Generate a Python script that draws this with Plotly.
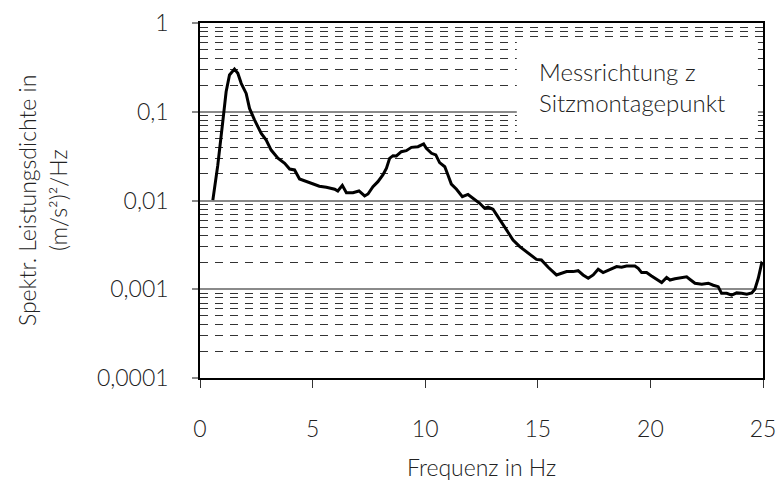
import plotly.graph_objects as go

# Spektrale Leistungsdichte, Messrichtung z, Sitzmontagepunkt
freq = [0.57, 0.79, 1.01, 1.16, 1.31, 1.53, 1.68, 1.83, 2.05, 2.2, 2.42, 2.72, 2.94,
        3.16, 3.46, 3.76, 3.98, 4.2, 4.42, 4.72, 5.09, 5.3, 5.61, 5.98, 6.12, 6.32,
        6.5, 6.79, 7.06, 7.31, 7.46, 7.68, 7.9, 8.12, 8.28, 8.42, 8.57, 8.72, 8.94,
        9.16, 9.39, 9.68, 9.93, 10.05, 10.28, 10.47, 10.64, 10.87, 11.01, 11.16,
        11.39, 11.65, 11.9, 12.12, 12.42, 12.64, 12.79, 13.01, 13.31, 13.61, 13.9,
        14.2, 14.5, 14.94, 15.16, 15.46, 15.83, 16.05, 16.28, 16.57, 16.79, 17.01,
        17.24, 17.46, 17.68, 17.9, 18.2, 18.5, 18.72, 18.94, 19.31, 19.46, 19.61,
        19.83, 20.05, 20.28, 20.5, 20.72, 20.87, 21.09, 21.39, 21.61, 21.76, 21.98,
        22.28, 22.57, 22.79, 23.01, 23.16, 23.39, 23.61, 23.83, 24.05, 24.28, 24.5,
        24.64, 24.79, 24.94, 25.0]
psd = [0.0101, 0.025, 0.077, 0.168, 0.26, 0.303, 0.271, 0.209, 0.161, 0.109, 0.081,
       0.057, 0.048, 0.037, 0.030, 0.0262, 0.0226, 0.0221, 0.0175, 0.0163, 0.0150,
       0.0145, 0.0141, 0.0134, 0.0128, 0.0148, 0.01225, 0.01225, 0.0128, 0.01124,
       0.01184, 0.0143, 0.0163, 0.0194, 0.0231, 0.0299, 0.032, 0.0318, 0.0355,
       0.0364, 0.0397, 0.0404, 0.0433, 0.0387, 0.034, 0.0326, 0.0267, 0.024, 0.0194,
       0.0153, 0.0134, 0.01104, 0.0117, 0.0106, 0.0093, 0.00817, 0.0084, 0.00796,
       0.00614, 0.00466, 0.00359, 0.00302, 0.00265, 0.00217, 0.00214, 0.00177,
       0.00145, 0.00151, 0.00158, 0.00158, 0.00162, 0.00145, 0.00133, 0.00145,
       0.00168, 0.00154, 0.00165, 0.0018, 0.00177, 0.00183, 0.00183, 0.00172,
       0.00154, 0.00154, 0.00141, 0.00129, 0.00119, 0.00136, 0.00127, 0.00131,
       0.00136, 0.00138, 0.00129, 0.00117, 0.00114, 0.00117, 0.00111, 0.00107,
       0.0009, 0.0009, 0.00086, 0.00091, 0.0009, 0.00088, 0.00091, 0.001, 0.00133,
       0.00196, 0.0019]

y_ticks = [0.0001, 0.001, 0.01, 0.1, 1]
y_labels = ["0,0001", "0,001", "0,01", "0,1", "1"]
minor_vals = [m * d for d in [0.0001, 0.001, 0.01, 0.1] for m in range(2, 10)]

FONT = "Lato"
TXT = "#222222"

fig = go.Figure()
fig.add_trace(go.Scatter(x=freq, y=psd, mode="lines",
                         line=dict(color="black", width=3), showlegend=False))

fig.update_xaxes(
    range=[0, 25], dtick=5, tick0=0, automargin=False,
    showgrid=False, zeroline=False,
    showline=True, linecolor="black", linewidth=2, mirror=True,
    ticks="outside", ticklen=8, tickcolor="#333", tickwidth=1,
    ticklabelstandoff=21,
    tickfont=dict(family=FONT, size=23, color=TXT, weight=300),
)
fig.update_yaxes(
    type="log", range=[-4, 0], automargin=False,
    tickvals=y_ticks, ticktext=y_labels,
    showgrid=True, gridcolor="#8a8a8a", gridwidth=1.5,
    showline=True, linecolor="black", linewidth=1.5, mirror=True,
    ticks="outside", ticklen=6, tickcolor="#888", tickwidth=1.5,
    ticklabelstandoff=19,
    tickfont=dict(family=FONT, size=23, color=TXT, weight=300),
    minor=dict(tickvals=minor_vals, showgrid=True, gridcolor="#333333",
               griddash="8px,7px", gridwidth=1, ticks=""),
)

# white label box
fig.add_shape(type="rect", xref="paper", yref="paper",
              x0=0.5627, x1=0.991, y0=0.6845, y1=0.952,
              fillcolor="white", line=dict(width=0), layer="above")
fig.add_annotation(xref="paper", yref="paper", x=0.598, y=0.82,
                   xanchor="left", yanchor="middle", align="left", showarrow=False,
                   text="Messrichtung z<br>Sitzmontagepunkt",
                   font=dict(family=FONT, size=24, color=TXT, weight=300))

# axis titles
fig.add_annotation(xref="paper", yref="paper", x=-0.308, y=0.5,
                   xanchor="center", yanchor="middle", showarrow=False, textangle=-90,
                   text="Spektr. Leistungsdichte in",
                   font=dict(family=FONT, size=23, color=TXT, weight=300))
fig.add_annotation(xref="paper", yref="paper", x=-0.253, y=0.5,
                   xanchor="center", yanchor="middle", showarrow=False, textangle=-90,
                   text="(m/s²)²/Hz",
                   font=dict(family=FONT, size=23, color=TXT, weight=300))
fig.add_annotation(xref="paper", yref="paper", x=0.5, y=-0.2507,
                   xanchor="center", yanchor="middle", showarrow=False,
                   text="Frequenz in Hz",
                   font=dict(family=FONT, size=23, color=TXT, weight=300))

# page body has an 8px margin, so the figure is sized to fit the window
fig.update_layout(
    width=776, height=477,
    margin=dict(l=192, r=21, t=15, b=107, autoexpand=False),
    plot_bgcolor="white", paper_bgcolor="white",
)

fig.write_html("out.html")
